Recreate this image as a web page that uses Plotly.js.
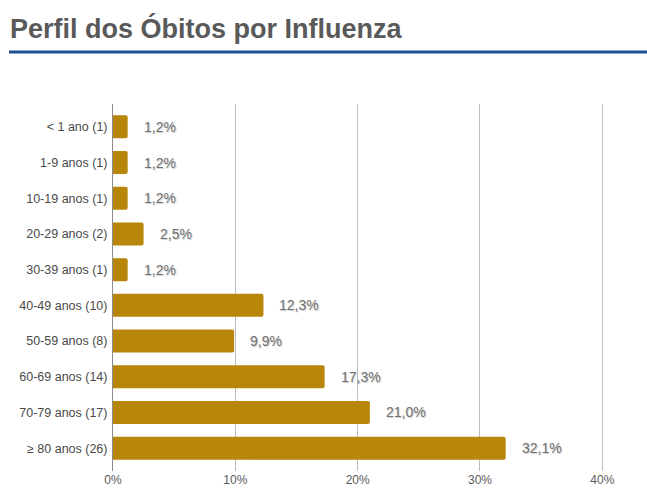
<!DOCTYPE html>
<html>
<head>
<meta charset="utf-8">
<script src="https://cdn.plot.ly/plotly-3.0.1.min.js"></script>
<style>html,body{margin:0;padding:0;background:#fff;}#chart{width:647px;height:493px;}</style>
</head>
<body>
<div id="chart"></div>
<script>
const categories = ["< 1 ano (1)", "1-9 anos (1)", "10-19 anos (1)", "20-29 anos (2)", "30-39 anos (1)",
  "40-49 anos (10)", "50-59 anos (8)", "60-69 anos (14)", "70-79 anos (17)", "≥ 80 anos (26)"];
const percentages = [1.2, 1.2, 1.2, 2.5, 1.2, 12.3, 9.9, 17.3, 21.0, 32.1];
const valueLabels = percentages.map(v => v.toFixed(1).replace('.', ',') + '%');
const titleText = "Perfil dos Óbitos por Influenza";

const regular = "Liberation Sans, Arial, sans-serif";

const trace = {
  type: 'bar',
  orientation: 'h',
  x: percentages,
  y: categories,
  marker: {color: '#B8860B'},
  hoverinfo: 'none'
};

const annotations = percentages.map((v, i) => ({
  x: v, y: categories[i], xref: 'x', yref: 'y',
  text: valueLabels[i], showarrow: false,
  xanchor: 'left', yanchor: 'middle', xshift: 14,
  font: {family: regular, size: 14, color: '#707070', shadow: '1px 1px 1px #cccccc'}
}));

const layout = {
  width: 647, height: 493,
  margin: {l: 113, r: 8, t: 104, b: 22},
  paper_bgcolor: '#ffffff', plot_bgcolor: '#ffffff',
  bargap: 0.355,
  barcornerradius: 2,
  showlegend: false,
  title: {
    text: '<b>' + titleText + '</b>',
    x: 10/647, xref: 'container', xanchor: 'left',
    y: 1 - 29/493, yref: 'container', yanchor: 'middle',
    font: {family: regular, size: 27, color: '#595959'}
  },
  xaxis: {
    range: [0, 43],
    tick0: 0, dtick: 10,
    ticksuffix: '%',
    showgrid: true, gridcolor: '#bdbdbd', gridwidth: 1,
    zeroline: false, showline: false,
    ticks: '',
    tickfont: {family: regular, size: 12, color: '#5a5a5a'},
    fixedrange: true
  },
  yaxis: {
    type: 'category',
    categoryorder: 'array', categoryarray: categories,
    range: [9.64, -0.64],
    showgrid: false, zeroline: false,
    showline: true, linecolor: '#8c8c8c', linewidth: 1,
    ticks: '', ticklabelstandoff: 2,
    tickfont: {family: regular, size: 12.5, color: '#4a4a4a'},
    fixedrange: true
  },
  shapes: [{
    type: 'line', xref: 'paper', yref: 'paper',
    x0: (9 - 113) / 526, x1: (647 - 113) / 526,
    y0: 1 + (104 - 52) / 367, y1: 1 + (104 - 52) / 367,
    line: {color: '#1B4F8F', width: 3}
  }],
  annotations: annotations
};

Plotly.newPlot('chart', [trace], layout, {displayModeBar: false, staticPlot: true});
</script>
</body>
</html>
